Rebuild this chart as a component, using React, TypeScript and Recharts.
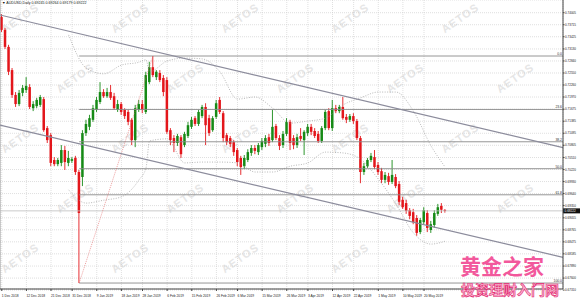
import { ComposedChart, Bar, Line, XAxis, YAxis, CartesianGrid, ReferenceLine } from "recharts";

// AUDUSD daily, [open, high, low, close], 3 Dec 2018 .. 28 May 2019
const candles: [number, number, number, number][] = [
  [0.7390, 0.7397, 0.7354, 0.7359], [0.7359, 0.7364, 0.7313, 0.7318], [0.7318, 0.7323, 0.7250, 0.7258],
  [0.7262, 0.7267, 0.7195, 0.7202], [0.7202, 0.7209, 0.7173, 0.7180], [0.7180, 0.7214, 0.7175, 0.7207],
  [0.7207, 0.7226, 0.7199, 0.7219], [0.7214, 0.7245, 0.7207, 0.7224], [0.7221, 0.7228, 0.7168, 0.7173],
  [0.7170, 0.7187, 0.7163, 0.7180], [0.7175, 0.7195, 0.7170, 0.7190], [0.7178, 0.7202, 0.7173, 0.7197],
  [0.7192, 0.7197, 0.7113, 0.7117], [0.7122, 0.7127, 0.7086, 0.7093], [0.7105, 0.7110, 0.7030, 0.7038],
  [0.7045, 0.7052, 0.7030, 0.7035], [0.7035, 0.7050, 0.7030, 0.7045], [0.7038, 0.7081, 0.7030, 0.7069],
  [0.7069, 0.7079, 0.7021, 0.7040], [0.7038, 0.7067, 0.7030, 0.7050], [0.7043, 0.7052, 0.7038, 0.7047],
  [0.7050, 0.7055, 0.7009, 0.7016], [0.7016, 0.7021, 0.6748, 0.6917], [0.7004, 0.7117, 0.6982, 0.7110],
  [0.7110, 0.7142, 0.7103, 0.7132], [0.7125, 0.7154, 0.7117, 0.7146], [0.7142, 0.7178, 0.7137, 0.7170],
  [0.7166, 0.7197, 0.7161, 0.7190], [0.7185, 0.7233, 0.7180, 0.7209], [0.7209, 0.7216, 0.7195, 0.7199],
  [0.7199, 0.7219, 0.7195, 0.7209], [0.7209, 0.7226, 0.7190, 0.7195], [0.7199, 0.7207, 0.7166, 0.7170],
  [0.7166, 0.7190, 0.7161, 0.7180], [0.7180, 0.7185, 0.7154, 0.7161], [0.7166, 0.7170, 0.7144, 0.7151],
  [0.7161, 0.7166, 0.7129, 0.7137], [0.7142, 0.7146, 0.7081, 0.7093], [0.7093, 0.7178, 0.7076, 0.7170],
  [0.7166, 0.7190, 0.7161, 0.7180], [0.7180, 0.7190, 0.7158, 0.7166], [0.7161, 0.7258, 0.7156, 0.7250],
  [0.7233, 0.7282, 0.7228, 0.7269], [0.7269, 0.7296, 0.7245, 0.7250], [0.7245, 0.7262, 0.7238, 0.7258],
  [0.7255, 0.7262, 0.7233, 0.7238], [0.7243, 0.7250, 0.7199, 0.7209], [0.7238, 0.7245, 0.7108, 0.7113],
  [0.7117, 0.7122, 0.7081, 0.7093], [0.7098, 0.7105, 0.7064, 0.7086], [0.7086, 0.7108, 0.7079, 0.7103],
  [0.7100, 0.7105, 0.7050, 0.7059], [0.7081, 0.7113, 0.7076, 0.7108], [0.7103, 0.7137, 0.7098, 0.7129],
  [0.7125, 0.7149, 0.7120, 0.7142], [0.7146, 0.7151, 0.7127, 0.7132], [0.7132, 0.7166, 0.7127, 0.7161],
  [0.7151, 0.7178, 0.7146, 0.7173], [0.7173, 0.7182, 0.7081, 0.7129], [0.7146, 0.7154, 0.7103, 0.7110],
  [0.7117, 0.7151, 0.7113, 0.7146], [0.7149, 0.7190, 0.7144, 0.7182], [0.7190, 0.7197, 0.7156, 0.7161],
  [0.7158, 0.7163, 0.7088, 0.7098], [0.7105, 0.7110, 0.7081, 0.7088], [0.7098, 0.7103, 0.7076, 0.7084],
  [0.7088, 0.7093, 0.7055, 0.7064], [0.7069, 0.7074, 0.7030, 0.7040], [0.7050, 0.7055, 0.7009, 0.7028],
  [0.7030, 0.7057, 0.7023, 0.7050], [0.7045, 0.7071, 0.7040, 0.7064], [0.7062, 0.7081, 0.7055, 0.7074],
  [0.7074, 0.7081, 0.7059, 0.7067], [0.7064, 0.7086, 0.7057, 0.7081], [0.7076, 0.7098, 0.7069, 0.7091],
  [0.7084, 0.7105, 0.7076, 0.7098], [0.7100, 0.7108, 0.7079, 0.7086], [0.7093, 0.7166, 0.7088, 0.7125],
  [0.7127, 0.7132, 0.7093, 0.7098], [0.7098, 0.7105, 0.7069, 0.7079], [0.7081, 0.7115, 0.7074, 0.7108],
  [0.7108, 0.7146, 0.7103, 0.7137], [0.7137, 0.7142, 0.7069, 0.7086], [0.7098, 0.7105, 0.7071, 0.7081],
  [0.7081, 0.7108, 0.7074, 0.7100], [0.7103, 0.7122, 0.7091, 0.7096], [0.7093, 0.7117, 0.7057, 0.7113],
  [0.7110, 0.7132, 0.7103, 0.7125], [0.7125, 0.7132, 0.7105, 0.7113], [0.7115, 0.7122, 0.7098, 0.7103],
  [0.7108, 0.7115, 0.7086, 0.7091], [0.7091, 0.7127, 0.7086, 0.7122], [0.7122, 0.7166, 0.7117, 0.7161],
  [0.7163, 0.7170, 0.7117, 0.7122], [0.7122, 0.7190, 0.7115, 0.7170], [0.7170, 0.7178, 0.7158, 0.7163],
  [0.7163, 0.7178, 0.7158, 0.7173], [0.7173, 0.7197, 0.7142, 0.7146], [0.7149, 0.7156, 0.7134, 0.7142],
  [0.7142, 0.7156, 0.7137, 0.7151], [0.7151, 0.7158, 0.7132, 0.7139], [0.7139, 0.7144, 0.7093, 0.7098],
  [0.7098, 0.7103, 0.6989, 0.7016], [0.7016, 0.7038, 0.7009, 0.7030], [0.7030, 0.7050, 0.7026, 0.7045],
  [0.7045, 0.7062, 0.7040, 0.7055], [0.7052, 0.7069, 0.7023, 0.7028], [0.7033, 0.7040, 0.7009, 0.7016],
  [0.7018, 0.7026, 0.6989, 0.6997], [0.6997, 0.7016, 0.6989, 0.7009], [0.7006, 0.7014, 0.6985, 0.6992],
  [0.6992, 0.7045, 0.6987, 0.7009], [0.7004, 0.7011, 0.6977, 0.6982], [0.6987, 0.6994, 0.6936, 0.6944],
  [0.6949, 0.6956, 0.6927, 0.6931], [0.6941, 0.6949, 0.6915, 0.6922], [0.6924, 0.6929, 0.6902, 0.6910],
  [0.6919, 0.6927, 0.6890, 0.6895], [0.6905, 0.6912, 0.6862, 0.6869], [0.6871, 0.6905, 0.6866, 0.6900],
  [0.6895, 0.6931, 0.6890, 0.6924], [0.6917, 0.6924, 0.6871, 0.6881], [0.6876, 0.6898, 0.6869, 0.6890],
  [0.6888, 0.6924, 0.6881, 0.6917], [0.6915, 0.6939, 0.6910, 0.6931], [0.6934, 0.6941, 0.6917, 0.6925],
  [0.69245, 0.69264, 0.69179, 0.69222],
];

const dateTicks = [0, 7, 14, 20, 27, 34, 40, 47, 54, 61, 67, 74, 81, 87, 94, 100, 107, 114, 120];
const dateLabels = [
  "1 Dec 2018", "12 Dec 2018", "21 Dec 2018", "31 Dec 2018", "9 Jan 2019", "18 Jan 2019",
  "28 Jan 2019", "6 Feb 2019", "15 Feb 2019", "26 Feb 2019", "6 Mar 2019", "15 Mar 2019",
  "26 Mar 2019", "3 Apr 2019", "12 Apr 2019", "22 Apr 2019", "1 May 2019", "10 May 2019", "20 May 2019",
];

const priceTicks = [
  0.74005, 0.73715, 0.73425, 0.7313, 0.7284, 0.7255, 0.7226, 0.7197, 0.71675, 0.71385, 0.71095, 0.70805,
  0.7051, 0.7022, 0.6993, 0.6964, 0.6935, 0.69055, 0.68765, 0.68475, 0.68185, 0.6789, 0.676, 0.6731,
];

// bollinger band, read at some bars
const bandIdx = [19, 24, 29, 34, 39, 41, 42, 47, 52, 57, 62, 67, 72, 77, 82, 87, 92, 97, 102, 107, 112, 117, 122, 126];
const bandUpper = [0.7347, 0.7267, 0.7253, 0.7274, 0.7281, 0.7287, 0.7258, 0.7284, 0.7291, 0.7289, 0.7258, 0.7192,
  0.7197, 0.717, 0.7134, 0.7139, 0.7146, 0.7178, 0.7195, 0.7209, 0.7209, 0.7163, 0.7079, 0.7028];
const bandLower = [0.6973, 0.6941, 0.6948, 0.6956, 0.6997, 0.7026, 0.7091, 0.7096, 0.7038, 0.704, 0.704, 0.7038,
  0.7016, 0.7016, 0.703, 0.7038, 0.7064, 0.7062, 0.7047, 0.6999, 0.6939, 0.6869, 0.6842, 0.6849];

const fibLevels = [0.7296, 0.7167, 0.7089, 0.7024, 0.6961, 0.6748];
const fibNames = ["0.0", "23.6", "38.2", "50.0", "61.8", "100.0"];

const bid = 0.69222;

const rows: any[] = candles.map((c, i) => ({ i, o: c[0], h: c[1], l: c[2], c: c[3], range: [c[2], c[1]] }));
bandIdx.forEach((k, j) => {
  rows[k].up = bandUpper[j];
  rows[k].lo = bandLower[j];
});

const font = "'Liberation Sans', Arial, sans-serif";

function Candle(props: any) {
  const { x, y, width, height, payload } = props;
  const span = payload.h - payload.l || 1e-9;
  const toY = (v: number) => y + ((payload.h - v) / span) * height;
  const color = payload.c >= payload.o ? "#168a16" : "#e3161b";
  const cx = x + width / 2;
  const top = toY(Math.max(payload.o, payload.c));
  const bot = toY(Math.min(payload.o, payload.c));
  return (
    <g>
      <line x1={cx} x2={cx} y1={y} y2={y + height} stroke={color} strokeWidth={0.9} />
      <rect x={cx - 1.25} y={top} width={2.5} height={Math.max(bot - top, 0.8)} fill={color} />
    </g>
  );
}

function DateTick(props: any) {
  const { x, y, payload } = props;
  const k = dateTicks.indexOf(payload.value);
  return (
    <text x={x} y={y + 4} fontSize={3.3} fontFamily={font} fill="#222" textAnchor="start">
      {dateLabels[k]}
    </text>
  );
}

function PriceTick(props: any) {
  const { x, y, payload } = props;
  return (
    <text x={x + 0.5} y={y + 1.1} fontSize={3.05} fontFamily={font} fill="#222" textAnchor="start">
      {payload.value.toFixed(5)}
    </text>
  );
}

function FibLabel(props: any) {
  const vb = props.viewBox || {};
  return (
    <text x={(vb.x || 0) + (vb.width || 0) - 1} y={(vb.y || 0) - 1} fontSize={3.4} fontFamily={font} fill="#333" textAnchor="end">
      {props.value}
    </text>
  );
}

function PriceTag(props: any) {
  const vb = props.viewBox || {};
  const x = (vb.x || 0) + (vb.width || 0);
  return (
    <g>
      <rect x={x} y={(vb.y || 0) - 2.5} width={17} height={5} fill="#111" />
      <text x={x + 1.6} y={(vb.y || 0) + 1.2} fontSize={3.05} fontFamily={font} fill="#fff">
        {bid.toFixed(5)}
      </text>
    </g>
  );
}

// AETOS watermark spots
const marks: [number, number][] = [
  [20, 20], [130, 20], [240, 20], [350, 20], [460, 20],
  [75, 80], [185, 80], [295, 80], [405, 80], [515, 80],
  [20, 140], [130, 140], [240, 140], [350, 140], [460, 140],
  [75, 200], [185, 200], [295, 200], [405, 200], [515, 200],
  [20, 260], [130, 260], [240, 260], [350, 260],
];

export default function App() {
  return (
    <div style={{ position: "absolute", left: 0, top: 0, width: 580, height: 299, background: "#fff", overflow: "hidden" }}>
      {marks.map(([mx, my], k) => (
        <div
          key={k}
          style={{
            position: "absolute", left: mx - 25, top: my - 8, width: 50, textAlign: "center",
            transform: "rotate(-35deg)", fontFamily: font, fontWeight: 700, fontSize: 11,
            letterSpacing: 1, color: "#e6e6e6",
          }}
        >
          AETOS
        </div>
      ))}
      <div style={{ position: "absolute", left: 0, top: 0 }}>
        <ComposedChart width={580} height={299} data={rows} margin={{ top: 0, right: 0, bottom: 0, left: 0 }}>
          <CartesianGrid stroke="#c9c9c9" strokeDasharray="1 1" strokeWidth={0.6} />
          <XAxis
            type="number"
            dataKey="i"
            domain={[-0.5, 159.5]}
            ticks={dateTicks}
            interval={0}
            tick={<DateTick />}
            tickSize={2}
            height={10}
            stroke="#444"
            allowDataOverflow
          />
          <YAxis
            orientation="right"
            type="number"
            domain={[0.67336, 0.74312]}
            ticks={priceTicks}
            interval={0}
            width={17}
            tickSize={1.5}
            tickMargin={0}
            tick={<PriceTick />}
            stroke="#444"
            allowDataOverflow
          />
          <ReferenceLine x={-0.5} stroke="#999" />
          <Line dataKey="up" type="monotone" connectNulls dot={false} stroke="#9a9a9a" strokeWidth={0.7} strokeDasharray="1 1.5" isAnimationActive={false} />
          <Line dataKey="lo" type="monotone" connectNulls dot={false} stroke="#9a9a9a" strokeWidth={0.7} strokeDasharray="1 1.5" isAnimationActive={false} />
          <ReferenceLine y={bid} stroke="#bdbdbd" strokeWidth={0.8} label={<PriceTag />} />
          {fibLevels.map((v, k) => (
            <ReferenceLine
              key={k}
              segment={[{ x: 22, y: v }, { x: 159.5, y: v }]}
              stroke="#8a8a8a"
              strokeWidth={0.9}
              label={<FibLabel value={fibNames[k]} />}
            />
          ))}
          <ReferenceLine segment={[{ x: 22, y: 0.6748 }, { x: 43, y: 0.7296 }]} stroke="#e06060" strokeWidth={0.6} strokeDasharray="1 1" />
          <ReferenceLine segment={[{ x: -0.5, y: 0.7395 }, { x: 159.5, y: 0.7075 }]} stroke="#8c8c9c" strokeWidth={1.2} />
          <ReferenceLine segment={[{ x: -0.5, y: 0.7129 }, { x: 159.5, y: 0.681 }]} stroke="#8c8c9c" strokeWidth={1.2} />
          <Bar dataKey="range" barSize={3} shape={<Candle />} isAnimationActive={false} />
        </ComposedChart>
      </div>
      <div style={{ position: "absolute", left: 2, top: 1, fontFamily: font, fontSize: 3.6, color: "#111", whiteSpace: "nowrap" }}>
        ▼ AUDUSD,Daily 0.69245 0.69264 0.69179 0.69222
      </div>
      <div
        style={{
          position: "absolute", left: 460, top: 253, fontFamily: "'Noto Sans CJK SC'", fontWeight: 700,
          fontSize: 21, lineHeight: "24px", color: "#f2589c", whiteSpace: "nowrap",
        }}
      >
        黄金之家
      </div>
      <div
        style={{
          position: "absolute", left: 461, top: 281, fontFamily: "'Noto Sans CJK SC'", fontWeight: 700,
          fontSize: 14, lineHeight: "17px", color: "#f9b7d2", WebkitTextStroke: "0.6px #e2256f", whiteSpace: "nowrap",
        }}
      >
        投资理财入门网
      </div>
    </div>
  );
}
